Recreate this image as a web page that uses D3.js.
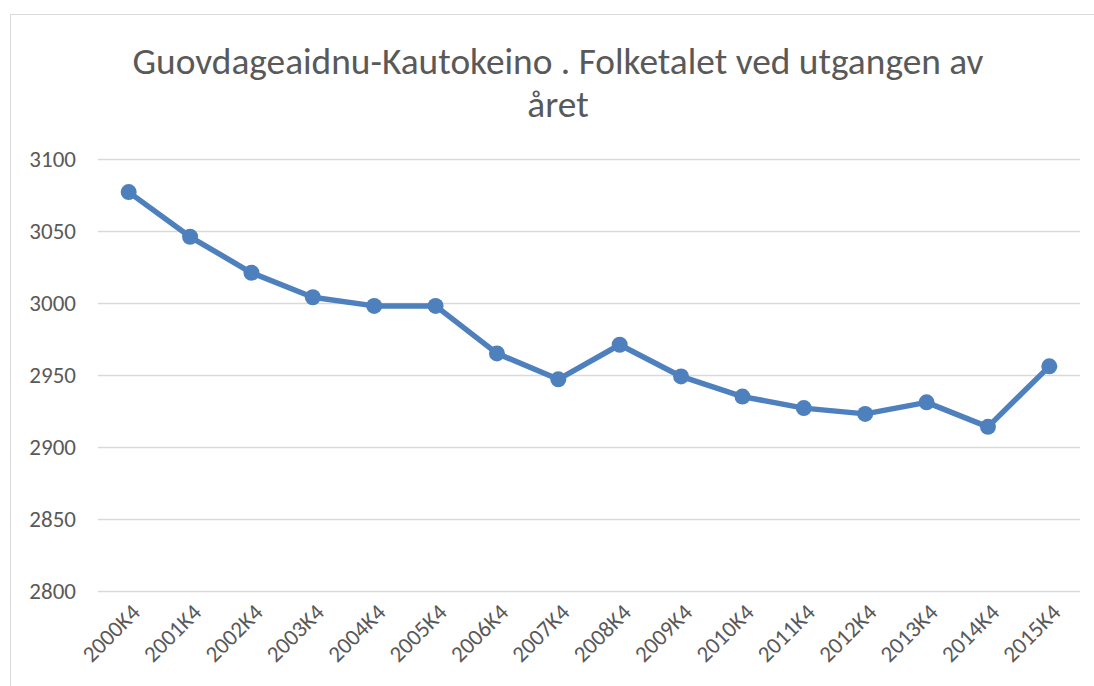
<!DOCTYPE html>
<html>
<head>
<meta charset="utf-8">
<script src="https://cdn.jsdelivr.net/npm/d3@7"></script>
<style>
  body { margin: 0; background: #fff; }
  svg { display: block; font-family: Calibri, Carlito, "Open Sans", sans-serif; }
</style>
</head>
<body>
<svg width="1094" height="686"></svg>
<script>
const QUARTERS = ['2000K4','2001K4','2002K4','2003K4','2004K4','2005K4','2006K4','2007K4',
                  '2008K4','2009K4','2010K4','2011K4','2012K4','2013K4','2014K4','2015K4']
const POPULATION = [3077, 3046, 3021, 3004, 2998, 2998, 2965, 2947,
                    2971, 2949, 2935, 2927, 2923, 2931, 2914, 2956]
const Y_TICKS = [2800, 2850, 2900, 2950, 3000, 3050, 3100]
const TITLE_LINES = ['Guovdageaidnu-Kautokeino . Folketalet ved utgangen av', 'året']

const svg = d3.select('svg')

// chart border (runs off the page on the right and bottom)
svg.append('rect')
    .attr('x', 10.5).attr('y', 14.5)
    .attr('width', 1200).attr('height', 800)
    .attr('fill', '#fff')
    .attr('stroke', '#d9d9d9')

const xScale = d3.scaleBand().domain(QUARTERS).range([98, 1080])
const yScale = d3.scaleLinear().domain([2800, 3100]).range([591, 159])

// grid lines
svg.append('g')
    .selectAll('line')
    .data(Y_TICKS)
    .enter()
    .append('line')
    .attr('x1', 98).attr('x2', 1080)
    .attr('y1', d => Math.round(yScale(d)) + 0.5)
    .attr('y2', d => Math.round(yScale(d)) + 0.5)
    .attr('stroke', '#d9d9d9')
    .attr('stroke-width', 1.5)

// y labels
svg.append('g')
    .selectAll('text')
    .data(Y_TICKS)
    .enter()
    .append('text')
    .attr('x', 76)
    .attr('y', d => yScale(d))
    .attr('dy', '0.35em')
    .attr('text-anchor', 'end')
    .attr('fill', '#595959')
    .style('font-size', '23px')
    .text(d => d)

// x labels, rotated
const cx = d => xScale(d) + xScale.bandwidth() / 2
svg.append('g')
    .selectAll('text')
    .data(QUARTERS)
    .enter()
    .append('text')
    .attr('transform', d => `translate(${cx(d) + 7},${608}) rotate(-45)`)
    .attr('text-anchor', 'end')
    .attr('dy', '0.35em')
    .attr('fill', '#595959')
    .style('font-size', '23px')
    .text(d => d)

// the line
const line = d3.line()
    .x((d, i) => cx(QUARTERS[i]))
    .y(d => yScale(d))

svg.append('path')
    .datum(POPULATION)
    .attr('d', line)
    .attr('fill', 'none')
    .attr('stroke', '#4e80bd')
    .attr('stroke-width', 5.5)
    .attr('stroke-linejoin', 'round')

svg.append('g')
    .selectAll('circle')
    .data(POPULATION)
    .enter()
    .append('circle')
    .attr('cx', (d, i) => cx(QUARTERS[i]))
    .attr('cy', d => yScale(d))
    .attr('r', 8)
    .attr('fill', '#4e80bd')

// title, sized so the first line spans roughly the same width as the reference
const title = svg.append('g')
    .selectAll('text')
    .data(TITLE_LINES)
    .enter()
    .append('text')
    .attr('x', 558)
    .attr('y', (d, i) => 74 + i * 43)
    .attr('text-anchor', 'middle')
    .attr('fill', '#595959')
    .style('font-size', '30px')
    .text(d => d)

const w = title.node().getComputedTextLength()
title.style('font-size', (30 * 851 / w) + 'px')
</script>
</body>
</html>
